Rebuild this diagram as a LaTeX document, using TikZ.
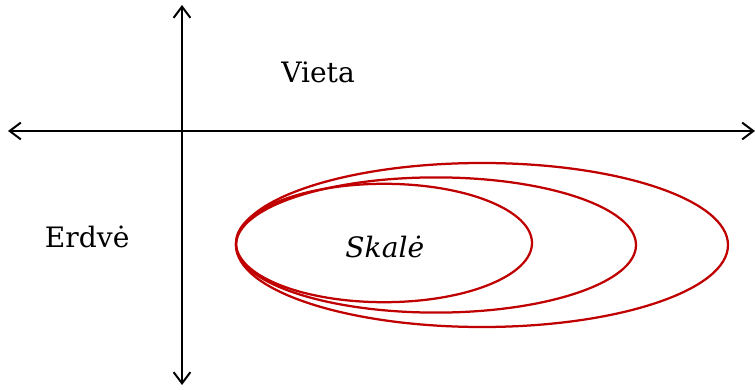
\documentclass[tikz,border=0pt]{standalone}
\usepackage{fontspec}
\setmainfont{DejaVu Serif}
\usepackage{tikz}
\usetikzlibrary{arrows.meta}
\definecolor{skalered}{RGB}{192,0,0}
\tikzset{
	axis/.style={{Straight Barb[length=2.8mm,width=4.2mm]}-{Straight Barb[length=2.8mm,width=4.2mm]}, line width=1.4pt},
	ring/.style={draw=skalered, line width=1.6pt},
	word/.style={font=\fontsize{20}{24}\selectfont}
}

\begin{document}
\begin{tikzpicture}
			\useasboundingbox (0,0) rectangle (18.875,9.725);
			\coordinate (left) at (0.2,6.45);
			\coordinate (right) at (18.875,6.45);
			\coordinate (top) at (4.55,9.6);
			\coordinate (bottom) at (4.55,0.1);
			\draw[axis] (left)--(right);
			\draw[axis] (top)--(bottom);
			\draw[ring] (9.6,3.65) ellipse (3.7 and 1.48);
			\draw[ring] (10.9,3.6) ellipse (5.0 and 1.69);
			\draw[ring] (12.05,3.6) ellipse (6.15 and 2.05);
			\node[word] (vieta) at (7.95,7.92) {Vieta};
			\node[word] (erdve) at (2.18,3.8) {Erdvė};
			\node[word, font=\fontsize{20}{24}\selectfont\itshape] (skale) at (9.62,3.56) {Skalė};
		\end{tikzpicture}
\end{document}
